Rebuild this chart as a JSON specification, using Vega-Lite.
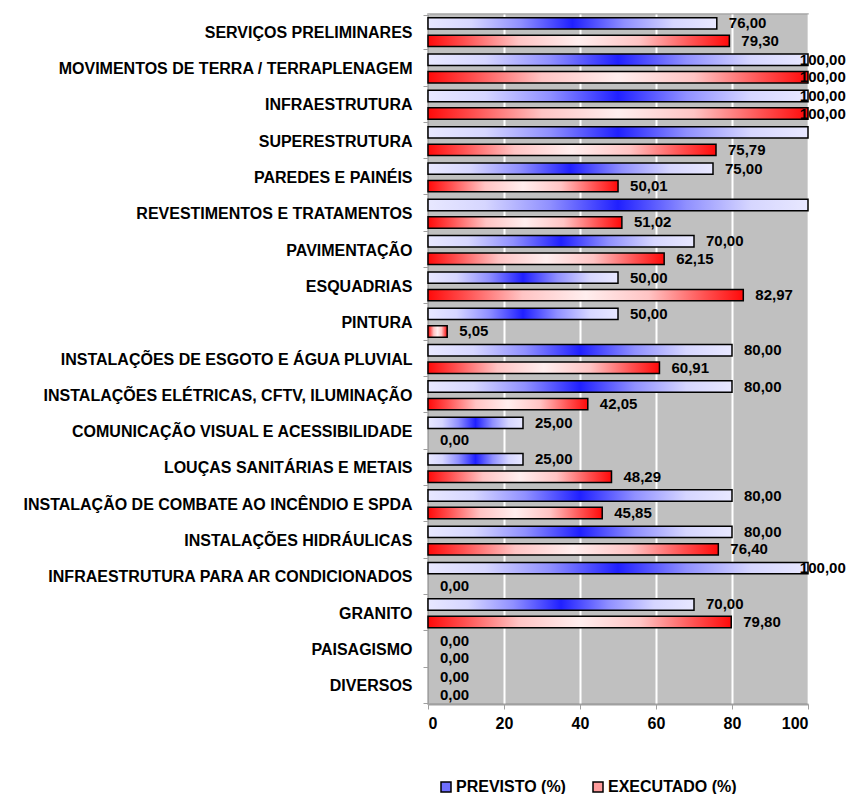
{
  "$schema": "https://vega.github.io/schema/vega-lite/v6.json",
  "width": 380,
  "height": 690,
  "autosize": {"type": "none"},
  "padding": {"left": 428, "top": 14, "right": 38, "bottom": 90},
  "background": "white",
  "config": {
    "locale": {"number": {"decimal": ",", "thousands": ".", "grouping": [3], "currency": ["R$", ""]}},
    "font": "Liberation Sans",
    "view": {"fill": "#c0c0c0", "stroke": "#a6a6a6", "strokeWidth": 1.5},
    "legend": {"labelFontWeight": "bold", "labelFontSize": 16, "labelColor": "black", "labelFont": "Liberation Sans"}
  },
  "data": {
    "values": [
      {"etapa": "SERVIÇOS PRELIMINARES", "serie": "PREVISTO (%)", "valor": 76.0},
      {"etapa": "SERVIÇOS PRELIMINARES", "serie": "EXECUTADO (%)", "valor": 79.3},
      {"etapa": "MOVIMENTOS DE TERRA / TERRAPLENAGEM", "serie": "PREVISTO (%)", "valor": 100.0},
      {"etapa": "MOVIMENTOS DE TERRA / TERRAPLENAGEM", "serie": "EXECUTADO (%)", "valor": 100.0},
      {"etapa": "INFRAESTRUTURA", "serie": "PREVISTO (%)", "valor": 100.0},
      {"etapa": "INFRAESTRUTURA", "serie": "EXECUTADO (%)", "valor": 100.0},
      {"etapa": "SUPERESTRUTURA", "serie": "PREVISTO (%)", "valor": 100.0},
      {"etapa": "SUPERESTRUTURA", "serie": "EXECUTADO (%)", "valor": 75.79},
      {"etapa": "PAREDES E PAINÉIS", "serie": "PREVISTO (%)", "valor": 75.0},
      {"etapa": "PAREDES E PAINÉIS", "serie": "EXECUTADO (%)", "valor": 50.01},
      {"etapa": "REVESTIMENTOS E TRATAMENTOS", "serie": "PREVISTO (%)", "valor": 100.0},
      {"etapa": "REVESTIMENTOS E TRATAMENTOS", "serie": "EXECUTADO (%)", "valor": 51.02},
      {"etapa": "PAVIMENTAÇÃO", "serie": "PREVISTO (%)", "valor": 70.0},
      {"etapa": "PAVIMENTAÇÃO", "serie": "EXECUTADO (%)", "valor": 62.15},
      {"etapa": "ESQUADRIAS", "serie": "PREVISTO (%)", "valor": 50.0},
      {"etapa": "ESQUADRIAS", "serie": "EXECUTADO (%)", "valor": 82.97},
      {"etapa": "PINTURA", "serie": "PREVISTO (%)", "valor": 50.0},
      {"etapa": "PINTURA", "serie": "EXECUTADO (%)", "valor": 5.05},
      {"etapa": "INSTALAÇÕES DE ESGOTO E ÁGUA PLUVIAL", "serie": "PREVISTO (%)", "valor": 80.0},
      {"etapa": "INSTALAÇÕES DE ESGOTO E ÁGUA PLUVIAL", "serie": "EXECUTADO (%)", "valor": 60.91},
      {"etapa": "INSTALAÇÕES ELÉTRICAS, CFTV, ILUMINAÇÃO", "serie": "PREVISTO (%)", "valor": 80.0},
      {"etapa": "INSTALAÇÕES ELÉTRICAS, CFTV, ILUMINAÇÃO", "serie": "EXECUTADO (%)", "valor": 42.05},
      {"etapa": "COMUNICAÇÃO VISUAL E ACESSIBILIDADE", "serie": "PREVISTO (%)", "valor": 25.0},
      {"etapa": "COMUNICAÇÃO VISUAL E ACESSIBILIDADE", "serie": "EXECUTADO (%)", "valor": 0.0},
      {"etapa": "LOUÇAS SANITÁRIAS E METAIS", "serie": "PREVISTO (%)", "valor": 25.0},
      {"etapa": "LOUÇAS SANITÁRIAS E METAIS", "serie": "EXECUTADO (%)", "valor": 48.29},
      {"etapa": "INSTALAÇÃO DE COMBATE AO INCÊNDIO E SPDA", "serie": "PREVISTO (%)", "valor": 80.0},
      {"etapa": "INSTALAÇÃO DE COMBATE AO INCÊNDIO E SPDA", "serie": "EXECUTADO (%)", "valor": 45.85},
      {"etapa": "INSTALAÇÕES HIDRÁULICAS", "serie": "PREVISTO (%)", "valor": 80.0},
      {"etapa": "INSTALAÇÕES HIDRÁULICAS", "serie": "EXECUTADO (%)", "valor": 76.4},
      {"etapa": "INFRAESTRUTURA PARA AR CONDICIONADOS", "serie": "PREVISTO (%)", "valor": 100.0},
      {"etapa": "INFRAESTRUTURA PARA AR CONDICIONADOS", "serie": "EXECUTADO (%)", "valor": 0.0},
      {"etapa": "GRANITO", "serie": "PREVISTO (%)", "valor": 70.0},
      {"etapa": "GRANITO", "serie": "EXECUTADO (%)", "valor": 79.8},
      {"etapa": "PAISAGISMO", "serie": "PREVISTO (%)", "valor": 0.0},
      {"etapa": "PAISAGISMO", "serie": "EXECUTADO (%)", "valor": 0.0},
      {"etapa": "DIVERSOS", "serie": "PREVISTO (%)", "valor": 0.0},
      {"etapa": "DIVERSOS", "serie": "EXECUTADO (%)", "valor": 0.0}
    ]
  },
  "encoding": {
    "y": {
      "field": "etapa",
      "type": "nominal",
      "sort": ["SERVIÇOS PRELIMINARES", "MOVIMENTOS DE TERRA / TERRAPLENAGEM", "INFRAESTRUTURA", "SUPERESTRUTURA", "PAREDES E PAINÉIS", "REVESTIMENTOS E TRATAMENTOS", "PAVIMENTAÇÃO", "ESQUADRIAS", "PINTURA", "INSTALAÇÕES DE ESGOTO E ÁGUA PLUVIAL", "INSTALAÇÕES ELÉTRICAS, CFTV, ILUMINAÇÃO", "COMUNICAÇÃO VISUAL E ACESSIBILIDADE", "LOUÇAS SANITÁRIAS E METAIS", "INSTALAÇÃO DE COMBATE AO INCÊNDIO E SPDA", "INSTALAÇÕES HIDRÁULICAS", "INFRAESTRUTURA PARA AR CONDICIONADOS", "GRANITO", "PAISAGISMO", "DIVERSOS"],
      "scale": {"paddingInner": 0.06, "paddingOuter": 0.03},
      "axis": {
        "title": null,
        "labelFont": "Liberation Sans",
        "labelFontSize": 16,
        "labelFontWeight": "bold",
        "labelColor": "black",
        "labelPadding": 11,
        "labelLimit": 500,
        "tickBand": "extent",
        "tickSize": 5,
        "tickColor": "#a0a0a0",
        "domainColor": "#a0a0a0",
        "domainWidth": 2,
        "grid": false
      }
    },
    "yOffset": {
      "field": "serie",
      "type": "nominal",
      "sort": ["PREVISTO (%)", "EXECUTADO (%)"],
      "scale": {"paddingInner": 0.35, "paddingOuter": 0.15}
    },
    "x": {
      "field": "valor",
      "type": "quantitative",
      "scale": {"domain": [0, 100], "nice": false},
      "axis": {
        "title": null,
        "values": [0, 20, 40, 60, 80, 100],
        "labelFont": "Liberation Sans",
        "labelFontSize": 16,
        "labelFontWeight": "bold",
        "labelColor": "black",
        "labelPadding": 6,
        "tickSize": 5,
        "tickColor": "#a0a0a0",
        "domainColor": "#a0a0a0",
        "domainWidth": 2,
        "grid": true,
        "gridColor": "white",
        "gridWidth": 2,
        "gridOpacity": 1
      }
    }
  },
  "layer": [
    {
      "mark": {"type": "bar", "opacity": 0},
      "encoding": {
        "color": {
          "field": "serie",
          "type": "nominal",
          "sort": ["PREVISTO (%)", "EXECUTADO (%)"],
          "scale": {"domain": ["PREVISTO (%)", "EXECUTADO (%)"], "range": ["#6f6fff", "#ff9c9c"]},
          "legend": {
            "title": null,
            "orient": "none",
            "direction": "horizontal",
            "legendX": 10,
            "legendY": 765,
            "symbolType": "square",
            "symbolSize": 100,
            "symbolOpacity": 1,
            "symbolStrokeColor": "black",
            "symbolStrokeWidth": 1.5,
            "labelFont": "Liberation Sans",
            "labelFontSize": 16,
            "labelFontWeight": "bold",
            "labelColor": "black",
            "labelOffset": 2,
            "columnPadding": 24
          }
        }
      }
    },
    {
      "transform": [{"filter": "datum.serie == 'PREVISTO (%)' && datum.valor > 0"}],
      "mark": {
        "type": "bar",
        "stroke": "black",
        "strokeWidth": 1.5,
        "fill": {
          "gradient": "linear",
          "x1": 0, "y1": 0, "x2": 1, "y2": 0,
          "stops": [
            {"offset": 0, "color": "#e8e8ff"},
            {"offset": 0.15, "color": "#d6d6ff"},
            {"offset": 0.32, "color": "#9090ff"},
            {"offset": 0.5, "color": "#2020ff"},
            {"offset": 0.68, "color": "#9090ff"},
            {"offset": 0.85, "color": "#d6d6ff"},
            {"offset": 1, "color": "#e8e8ff"}
          ]
        }
      }
    },
    {
      "transform": [{"filter": "datum.serie == 'EXECUTADO (%)' && datum.valor > 0"}],
      "mark": {
        "type": "bar",
        "stroke": "black",
        "strokeWidth": 1.5,
        "fill": {
          "gradient": "linear",
          "x1": 0, "y1": 0, "x2": 1, "y2": 0,
          "stops": [
            {"offset": 0, "color": "#ff0a0a"},
            {"offset": 0.12, "color": "#ff5050"},
            {"offset": 0.3, "color": "#ffc4c4"},
            {"offset": 0.5, "color": "#ffeeee"},
            {"offset": 0.7, "color": "#ffc4c4"},
            {"offset": 0.88, "color": "#ff5050"},
            {"offset": 1, "color": "#ff0a0a"}
          ]
        }
      }
    },
    {
      "transform": [
        {"filter": "!(datum.serie == 'PREVISTO (%)' && (datum.etapa == 'SUPERESTRUTURA' || datum.etapa == 'REVESTIMENTOS E TRATAMENTOS'))"},
        {"calculate": "min(datum.valor, 94.7)", "as": "posicao_rotulo"}
      ],
      "mark": {
        "type": "text",
        "align": "left",
        "baseline": "middle",
        "dx": 12,
        "font": "Liberation Sans",
        "fontSize": 15,
        "fontWeight": "bold",
        "color": "black"
      },
      "encoding": {
        "x": {"field": "posicao_rotulo", "type": "quantitative"},
        "text": {"field": "valor", "type": "quantitative", "format": ".2f"}
      }
    }
  ]
}
